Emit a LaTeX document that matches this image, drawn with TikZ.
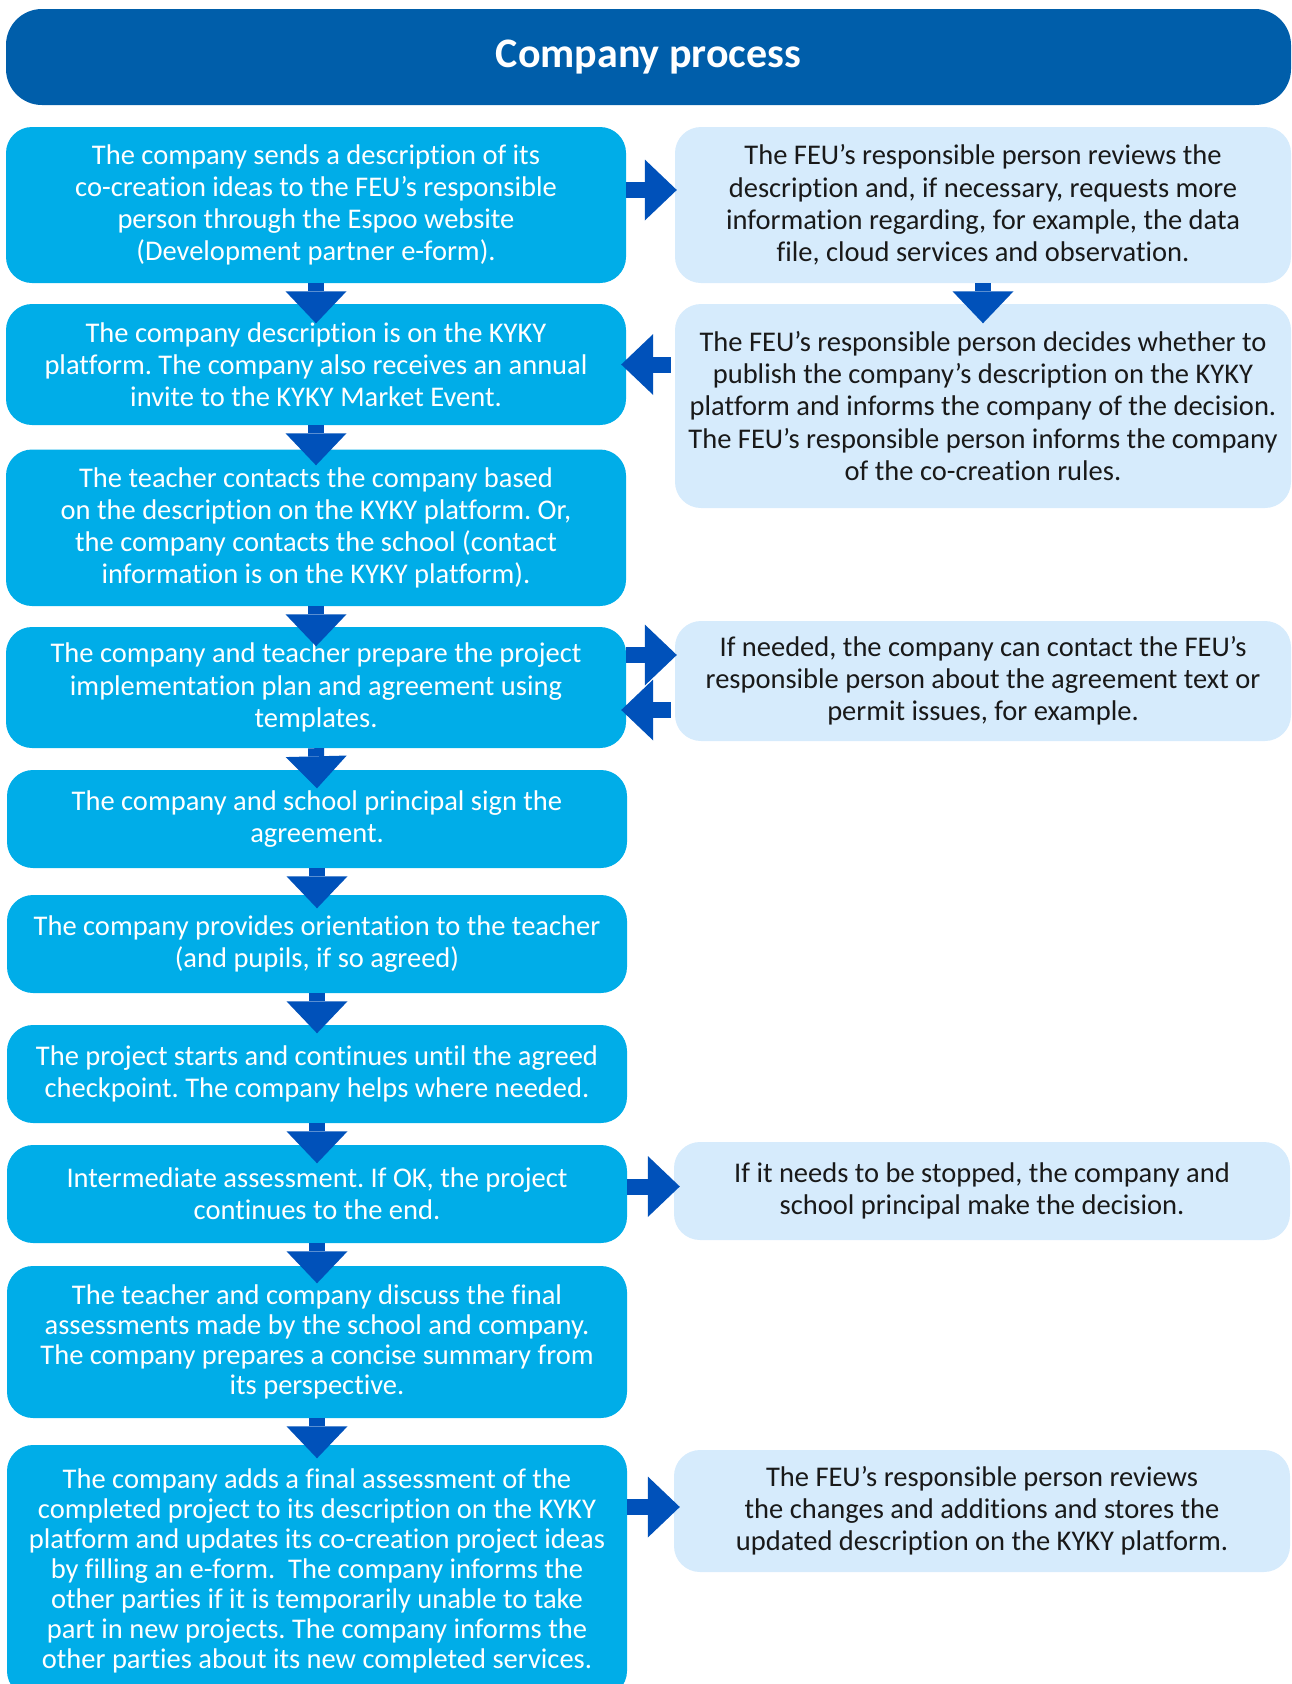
\documentclass[tikz,border=0pt]{standalone}
\usepackage{fontspec}
\setmainfont{Carlito}[Ligatures=NoCommon]
\frenchspacing
\usetikzlibrary{arrows.meta}
\definecolor{headblue}{RGB}{0,94,170}
\definecolor{stepblue}{RGB}{0,173,232}
\definecolor{feublue}{RGB}{214,235,252}
\definecolor{arrowblue}{RGB}{0,81,186}
\begin{document}
\begin{tikzpicture}[x=1pt, y=-1pt,
    box/.style={rectangle, rounded corners=26pt, inner sep=0pt, align=center,
      font=\fontsize{28.5}{32.2}\selectfont},
    company/.style={box, fill=stepblue, text=white, minimum width=620pt},
    feu/.style={box, fill=feublue, text=black!90, minimum width=616pt},
    flow/.style={arrowblue, line width=16pt,
      -{Triangle[width=61pt, length=32pt, line width=0pt]}}]
        \useasboundingbox (0,0) rectangle (1292,1684);

        % Header
        \node[rectangle, rounded corners=36pt, fill=headblue, text=white,
        minimum width=1285pt, minimum height=96pt,
        font=\bfseries\fontsize{42}{46}\selectfont] (title) at (648.5,57)
        {Company process};

        % Company steps (left)
        \node[company, minimum height=156pt] (l1) at (316,205)
        {The company sends a description of its\\co-creation ideas to the FEU’s responsible\\person through the Espoo website\\(Development partner e-form).};
        \node[company, minimum height=121pt] (l2) at (316,364.5)
        {The company description is on the KYKY\\platform. The company also receives an annual\\invite to the KYKY Market Event.};
        \node[company, minimum height=156.5pt] (l3) at (316,527.75)
        {The teacher contacts the company based\\on the description on the KYKY platform. Or,\\the company contacts the school (contact\\information is on the KYKY platform).};
        \node[company, minimum height=121pt] (l4) at (316,687.5)
        {The company and teacher prepare the project\\implementation plan and agreement using\\templates.};
        \node[company, minimum height=98pt] (l5) at (317,819)
        {The company and school principal sign the\\agreement.};
        \node[company, minimum height=98pt] (l6) at (317,944)
        {The company provides orientation to the teacher\\(and pupils, if so agreed)};
        \node[company, minimum height=98pt] (l7) at (317,1074)
        {The project starts and continues until the agreed\\checkpoint. The company helps where needed.};
        \node[company, minimum height=98pt] (l8) at (317,1194)
        {Intermediate assessment. If OK, the project\\continues to the end.};
        \node[company, minimum height=152pt, font=\fontsize{28.5}{30}\selectfont] (l9) at (317,1342)
        {The teacher and company discuss the final\\assessments made by the school and company.\\The company prepares a concise summary from\\its perspective.};
        \node[company, minimum height=252pt, font=\fontsize{28.5}{30}\selectfont] (l10) at (317,1571)
        {The company adds a final assessment of the\\completed project to its description on the KYKY\\platform and updates its co-creation project ideas\\by filling an e-form.\ \ The company informs the\\other parties if it is temporarily unable to take\\part in new projects. The company informs the\\other parties about its new completed services.};

        % FEU steps (right)
        \node[feu, minimum height=156pt] (r1) at (983,205)
        {The FEU’s responsible person reviews the\\description and, if necessary, requests more\\information regarding, for example, the data\\file, cloud services and observation.};
        \node[feu, minimum height=204pt] (r2) at (983,406)
        {The FEU’s responsible person decides whether to\\publish the company’s description on the KYKY\\platform and informs the company of the decision.\\The FEU’s responsible person informs the company\\of the co-creation rules.};
        \node[feu, minimum height=120pt] (r3) at (983,681)
        {If needed, the company can contact the FEU’s\\responsible person about the agreement text or\\permit issues, for example.};
        \node[feu, minimum height=98pt] (r4) at (982,1191)
        {If it needs to be stopped, the company and\\school principal make the decision.};
        \node[feu, minimum height=122pt] (r5) at (982,1511)
        {The FEU’s responsible person reviews\\the changes and additions and stores the\\updated description on the KYKY platform.};

        % Arrows
        \foreach \a/\b/\s in {l1/l2/19.5, l2/l3/16, l3/l4/19.5, l4/l5/18.5,
          l5/l6/13.5, l6/l7/8.5, l7/l8/18.5, l8/l9/17.5, l9/l10/13.5, r1/r2/19.5}
          \draw[flow] (\a.south) -- ([yshift=-\s pt]\b.north);

        \draw[flow, shorten >=-2pt] ([yshift=15pt]l1.east) -- ([yshift=15pt]l1.east -| r1.west);
        \draw[flow, shorten <=4pt, shorten >=-5pt] (r2.west |- l2.east) -- (l2.east);
        \draw[flow, shorten >=-2pt] ([yshift=32.5pt]l4.east) -- ([yshift=32.5pt]l4.east -| r3.west);
        \draw[flow, shorten <=4pt, shorten >=-5pt] ([yshift=-22.5pt]l4.east -| r3.west) -- ([yshift=-22.5pt]l4.east);
        \draw[flow, shorten >=-6pt] ([yshift=7.5pt]l8.east) -- ([yshift=7.5pt]l8.east -| r4.west);
        \draw[flow, shorten >=-6pt] ([yshift=4pt]r5.west -| l10.east) -- ([yshift=4pt]r5.west);
      \end{tikzpicture}
\end{document}
